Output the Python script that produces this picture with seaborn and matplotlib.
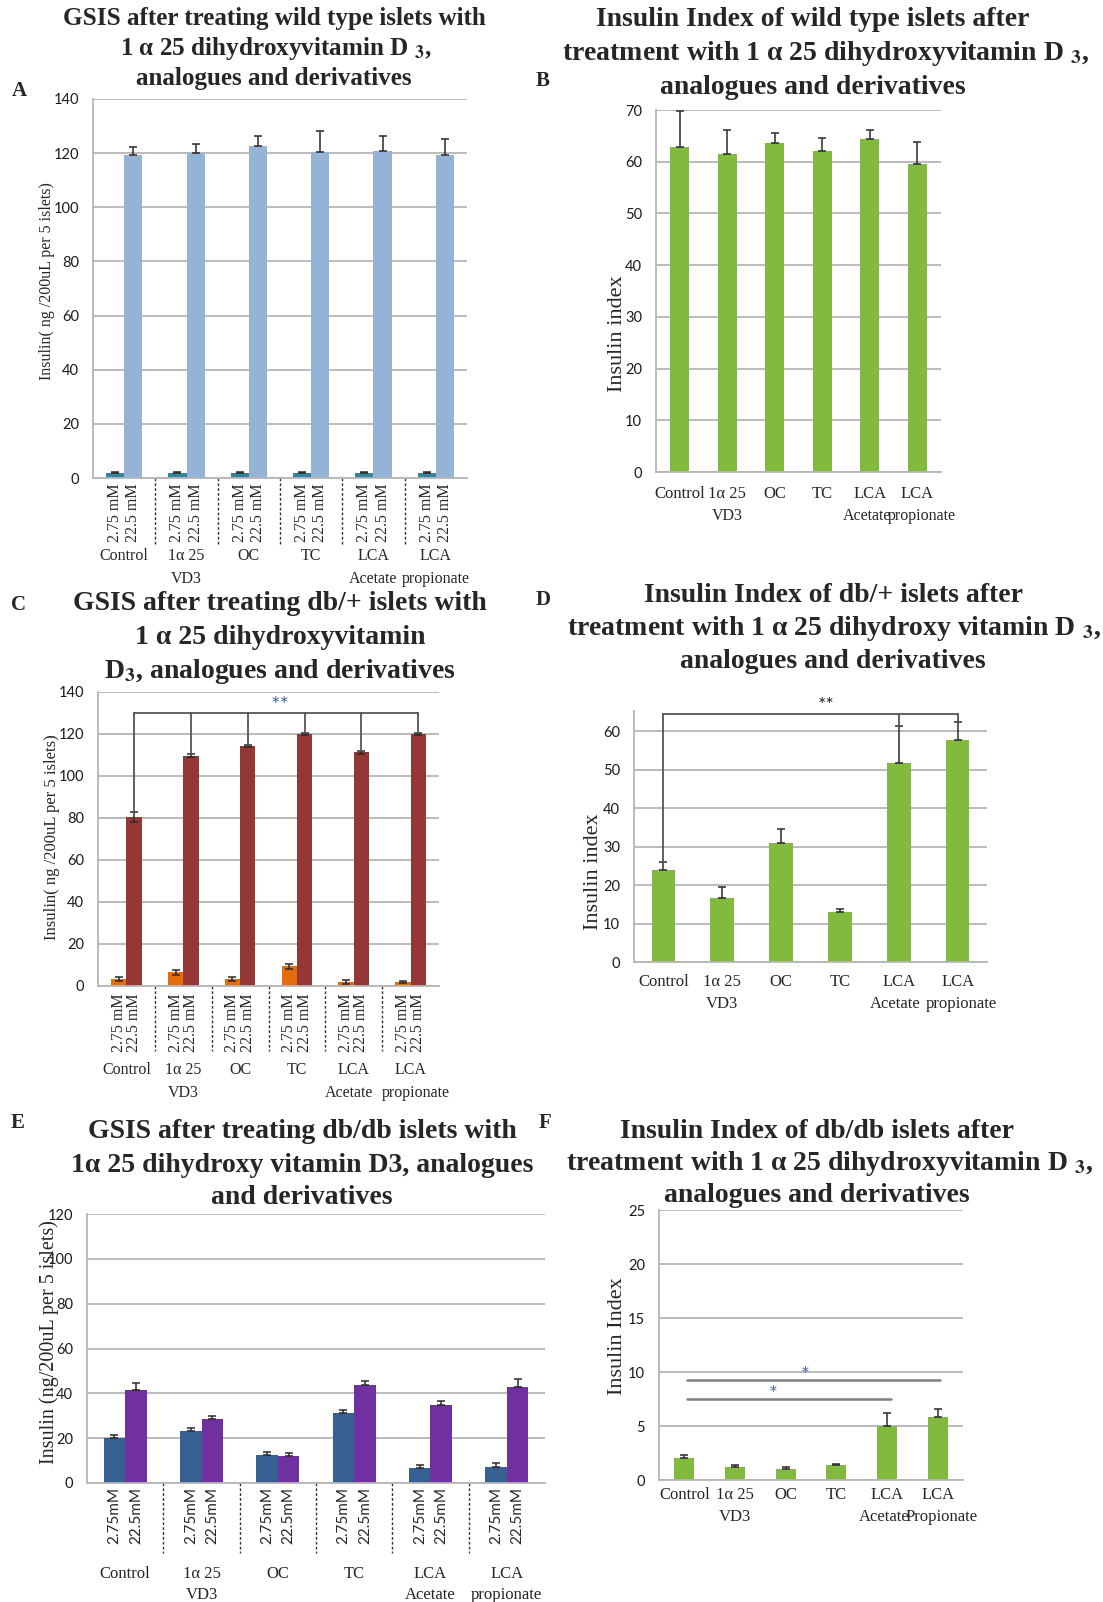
import numpy as np
import pandas as pd
import matplotlib
matplotlib.use("Agg")
import matplotlib.pyplot as plt
import seaborn as sns

# ---------------- data ----------------
groups = ["Control", "1α 25 VD3", "OC", "TC", "LCA Acetate", "LCA propionate"]
grp_line1 = ["Control", "1α 25", "OC", "TC", "LCA", "LCA"]
grp_line2 = ["", "VD3", "", "", "Acetate", "propionate"]
grp_line2_F = ["", "VD3", "", "", "Acetate", "Propionate"]
conc_serif = ["2.75 mM", "22.5 mM"]
conc_sans = ["2.75mM", "22.5mM"]

# A: wild type GSIS
wt_low = [2.0, 1.9, 1.9, 1.9, 1.9, 1.9]
wt_low_err = [0.3, 0.2, 0.2, 0.2, 0.2, 0.2]
wt_high = [119.3, 120.0, 122.7, 120.5, 120.8, 119.3]
wt_high_err = [3.0, 3.5, 3.5, 7.6, 5.7, 6.1]
# B: wild type insulin index
wt_index = [62.9, 61.5, 63.7, 62.1, 64.4, 59.5]
wt_index_err = [7.0, 4.6, 1.9, 2.4, 1.8, 4.4]
# C: db/+ GSIS
het_low = [3.2, 6.6, 3.3, 9.3, 1.9, 1.7]
het_low_err = [1.0, 1.2, 1.0, 1.2, 0.8, 0.5]
het_high = [80.4, 109.7, 114.3, 120.0, 111.3, 120.0]
het_high_err = [2.4, 0.8, 0.6, 0.5, 0.7, 0.5]
# D: db/+ insulin index
het_index = [23.9, 16.6, 30.8, 12.9, 51.7, 57.6]
het_index_err = [2.0, 3.0, 3.8, 0.9, 9.6, 4.7]
# E: db/db GSIS
dbdb_low = [20.1, 23.3, 12.4, 31.2, 6.6, 7.0]
dbdb_low_err = [1.2, 1.3, 1.5, 1.4, 1.6, 1.9]
dbdb_high = [41.6, 28.5, 11.9, 43.8, 34.9, 42.9]
dbdb_high_err = [3.1, 1.3, 1.4, 1.5, 1.9, 3.3]
# F: db/db insulin index
dbdb_index = [2.05, 1.2, 1.0, 1.35, 5.0, 5.85]
dbdb_index_err = [0.3, 0.2, 0.2, 0.1, 1.2, 0.75]

# significance annotations
C_bracket_y = 130
D_bracket_y = 64.4
F_lines = [(0.06, 5.05, 9.3, 2.38), (0.06, 4.08, 7.5, 1.75)]

# ---------------- style ----------------
sns.set_theme(style="white")
SERIF = ["Liberation Serif", "DejaVu Serif"]
SANS = ["Lato", "DejaVu Sans"]
plt.rcParams["font.family"] = SERIF
plt.rcParams["mathtext.fontset"] = "stix"

W, H = 1103, 1602
fig = plt.figure(figsize=(W / 100, H / 100), dpi=100)
fig.patch.set_facecolor("white")

GRID = "#B5B5B5"
GREEN = "#82B93F"
PX = 0.72  # points per pixel


def add_ax(l, t, r, b):
    return fig.add_axes([l / W, 1 - b / H, (r - l) / W, (b - t) / H])


def style_axis(ax, ylim, yticks):
    ax.set_ylim(*ylim)
    ax.set_yticks(yticks)
    ax.set_xlabel("")
    ax.set_ylabel("")
    ax.set_facecolor("white")
    ax.yaxis.grid(True, color=GRID, lw=1.3)
    ax.xaxis.grid(False)
    ax.set_axisbelow(True)
    for s in ["top", "right"]:
        ax.spines[s].set_visible(False)
    for s in ["left", "bottom"]:
        ax.spines[s].set_visible(True)
        ax.spines[s].set_color(GRID)
        ax.spines[s].set_linewidth(1.3)
    ax.tick_params(axis="y", length=4, color=GRID, width=1.2, pad=6, labelsize=10.5,
                   labelcolor="#1a1a1a")
    for lab in ax.get_yticklabels():
        lab.set_family(SANS)
    ax.tick_params(axis="x", length=0)


def bar_centers(container):
    return [b.get_x() + b.get_width() / 2 for b in container]


def add_err(ax, container, vals, errs, both=False):
    xs = bar_centers(container)
    idx = [int(round(x)) for x in xs]
    v = [vals[i] for i in idx]
    e = [errs[i] for i in idx]
    lower = e if both else [0] * len(e)
    ax.errorbar(xs, v, yerr=[lower, e], fmt="none", ecolor="#2a2a2a",
                elinewidth=1.1, capsize=3.2, capthick=1.1, zorder=4)


def group_labels(ax, l1, l2, off1, off2, size, size2=None, shifts=None):
    size2 = size2 or size
    shifts = shifts or [0] * len(l1)
    for i in range(len(l1)):
        ax.annotate(l1[i], xy=(i, 0), xycoords=("data", "axes fraction"),
                    xytext=(0, -off1 * PX), textcoords="offset points",
                    ha="center", va="center", fontsize=size, family=SERIF,
                    annotation_clip=False)
        if l2[i]:
            ax.annotate(l2[i], xy=(i, 0), xycoords=("data", "axes fraction"),
                        xytext=(shifts[i] * PX, -off2 * PX), textcoords="offset points",
                        ha="center", va="center", fontsize=size2, family=SERIF,
                        annotation_clip=False)


def separators(ax, depth_px, ax_h_px):
    for b in [0.5, 1.5, 2.5, 3.5, 4.5]:
        ax.plot([b, b], [0, -depth_px / ax_h_px], transform=ax.get_xaxis_transform(),
                color="#333333", lw=1.0, ls=(0, (2, 1.5)), clip_on=False)


def grouped_panel(ax, low, high, low_err, high_err, colors, width, ylim, yticks,
                  conc, tick_family, tick_size, tick_pad, both=False):
    df = pd.DataFrame({"group": groups * 2,
                       "conc": [conc[0]] * 6 + [conc[1]] * 6,
                       "value": low + high})
    sns.barplot(data=df, x="group", y="value", hue="conc", order=groups,
                hue_order=conc, palette=colors, width=width, errorbar=None,
                legend=False, saturation=1, linewidth=0, ax=ax)
    style_axis(ax, ylim, yticks)
    add_err(ax, ax.containers[0], low, low_err, both=both)
    add_err(ax, ax.containers[1], high, high_err, both=both)
    xs, labs = [], []
    for k in range(2):
        for x in bar_centers(ax.containers[k]):
            xs.append(x)
            labs.append(conc[k])
    ax.set_xticks(xs)
    ax.set_xticklabels(labs, rotation=90, family=tick_family, fontsize=tick_size,
                       va="top", ha="center")
    ax.tick_params(axis="x", pad=tick_pad * PX)
    ax.set_xlim(-0.5, 5.5)


def simple_panel(ax, vals, errs, ylim, yticks):
    sns.barplot(x=groups, y=vals, order=groups, color=GREEN, width=0.4,
                errorbar=None, saturation=1, linewidth=0, ax=ax)
    style_axis(ax, ylim, yticks)
    add_err(ax, ax.containers[0], vals, errs)
    ax.set_xticks([])
    ax.set_xlim(-0.5, 5.5)


def title(xs, ys, lines, size):
    for x, y, t in zip(xs, ys, lines):
        fig.text(x / W, 1 - y / H, t, ha="center", va="center", fontsize=size,
                 fontweight="bold", family=SERIF)


def ylab(x, y, t, size):
    fig.text(x / W, 1 - y / H, t, rotation=90, ha="center", va="center",
             fontsize=size, family=SERIF)


def letter(x, y, t):
    fig.text(x / W, 1 - y / H, t, ha="center", va="center", fontsize=15,
             fontweight="bold", family=SERIF)


# ---------------- Panel A ----------------
axA = add_ax(93, 99, 467, 478)
grouped_panel(axA, wt_low, wt_high, wt_low_err, wt_high_err, ["#31859C", "#95B3D7"],
              0.58, (0, 140), range(0, 141, 20), conc_serif, SERIF, 11.5, 5)
separators(axA, 66, 379)
group_labels(axA, grp_line1, grp_line2, 78, 101, 11.5)
title([274, 276, 274], [18, 48, 79], ["GSIS after treating wild type islets with",
                                      r"1 α 25 dihydroxyvitamin D $_\mathbf{3}$,",
                                      "analogues and derivatives"], 18.1)
ylab(47, 281, "Insulin( ng /200uL per 5 islets)", 11.5)
letter(19, 91, "A")

# ---------------- Panel B ----------------
axB = add_ax(656, 110, 941, 472)
simple_panel(axB, wt_index, wt_index_err, (0, 70), range(0, 71, 10))
group_labels(axB, grp_line1, grp_line2, 22, 44, 12, 11.5, [0, 0, 0, 0, -3, 5])
title([813, 826, 813], [20, 53, 87], ["Insulin Index of wild type islets after",
                                      r"treatment with 1 α 25 dihydroxyvitamin D $_\mathbf{3}$,",
                                      "analogues and derivatives"], 20)
ylab(617, 334, "Insulin index", 16)
letter(543, 81, "B")

# ---------------- Panel C ----------------
axC = add_ax(98, 692, 439, 986)
grouped_panel(axC, het_low, het_high, het_low_err, het_high_err, ["#E46C0A", "#953735"],
              0.54, (0, 140), range(0, 141, 20), conc_serif, SERIF, 11.5, 7, both=True)
separators(axC, 65, 294)
group_labels(axC, grp_line1, grp_line2, 84, 107, 11.5, 11.5, [0, 0, 0, 0, -5, 5])
hx = bar_centers(axC.containers[1])
axC.plot([hx[0], hx[-1]], [C_bracket_y, C_bracket_y], color="#555555", lw=1.3, zorder=5)
for i, x in enumerate(hx):
    axC.plot([x, x], [C_bracket_y, het_high[i] + het_high_err[i]], color="#555555",
             lw=1.3, zorder=5)
axC.text(2.7, C_bracket_y + 3.5, "**", ha="center", va="center", fontsize=16,
         color="#4F6E9C", family=SANS, clip_on=False)
title([280, 280, 280], [604, 637, 671], ["GSIS after treating db/+ islets with",
                                         "1 α 25 dihydroxyvitamin",
                                         r"D$_\mathbf{3}$, analogues and derivatives"], 20)
ylab(52, 837, "Insulin( ng /200uL per 5 islets)", 12)
letter(19, 605, "C")

# ---------------- Panel D ----------------
axD = add_ax(634, 711, 987, 962)
simple_panel(axD, het_index, het_index_err, (0, 65.2), range(0, 61, 10))
group_labels(axD, grp_line1, grp_line2, 20, 42, 12, 12, [0, 0, 0, 0, -4, 4])
dx = bar_centers(axD.containers[0])
axD.plot([dx[0], dx[5]], [D_bracket_y, D_bracket_y], color="#555555", lw=1.3,
         zorder=5, clip_on=False)
for i in [0, 4, 5]:
    axD.plot([dx[i], dx[i]], [D_bracket_y, het_index[i] + het_index_err[i]],
             color="#555555", lw=1.3, zorder=5, clip_on=False)
axD.text(2.77, 66.6, "**", ha="center", va="center", fontsize=14, color="#222222",
         family=SANS, clip_on=False)
title([833, 834, 833], [596, 629, 662], ["Insulin Index of db/+ islets after",
                                         r"treatment with 1 α 25 dihydroxy vitamin D $_\mathbf{3}$,",
                                         "analogues and derivatives"], 20)
ylab(593, 872, "Insulin index", 16)
letter(543, 600, "D")

# ---------------- Panel E ----------------
axE = add_ax(87, 1214, 545, 1483)
grouped_panel(axE, dbdb_low, dbdb_high, dbdb_low_err, dbdb_high_err,
              ["#376092", "#7030A0"], 0.56, (0, 120), range(0, 121, 20),
              conc_sans, SANS, 11, 4)
separators(axE, 70, 269)
group_labels(axE, grp_line1, grp_line2, 91, 112, 12)
title([302, 302, 302], [1132, 1165, 1198], ["GSIS after treating db/db islets with",
                                            "1α 25 dihydroxy vitamin D3, analogues",
                                            "and derivatives"], 20)
ylab(49, 1342, "Insulin (ng/200uL per 5 islets)", 14.5)
letter(18, 1123, "E")

# ---------------- Panel F ----------------
axF = add_ax(659, 1210, 963, 1480)
simple_panel(axF, dbdb_index, dbdb_index_err, (0, 25), range(0, 26, 5))
group_labels(axF, grp_line1, grp_line2_F, 15, 37, 12, 12, [0, 0, 0, 0, -3, 4])
for x0, x1, y, sx in F_lines:
    axF.plot([x0, x1], [y, y], color="#7F7F7F", lw=1.8, zorder=5)
    axF.text(sx, y + 0.35, "*", ha="center", va="center", fontsize=15,
             color="#4F6E9C", family=SANS)
title([817, 830, 817], [1131, 1163, 1196], ["Insulin Index of db/db islets after",
                                            r"treatment with 1 α 25 dihydroxyvitamin D $_\mathbf{3}$,",
                                            "analogues and derivatives"], 20)
ylab(618, 1336, "Insulin Index", 16)
letter(545, 1123, "F")

fig.savefig("out.png", dpi=100, facecolor="white")
